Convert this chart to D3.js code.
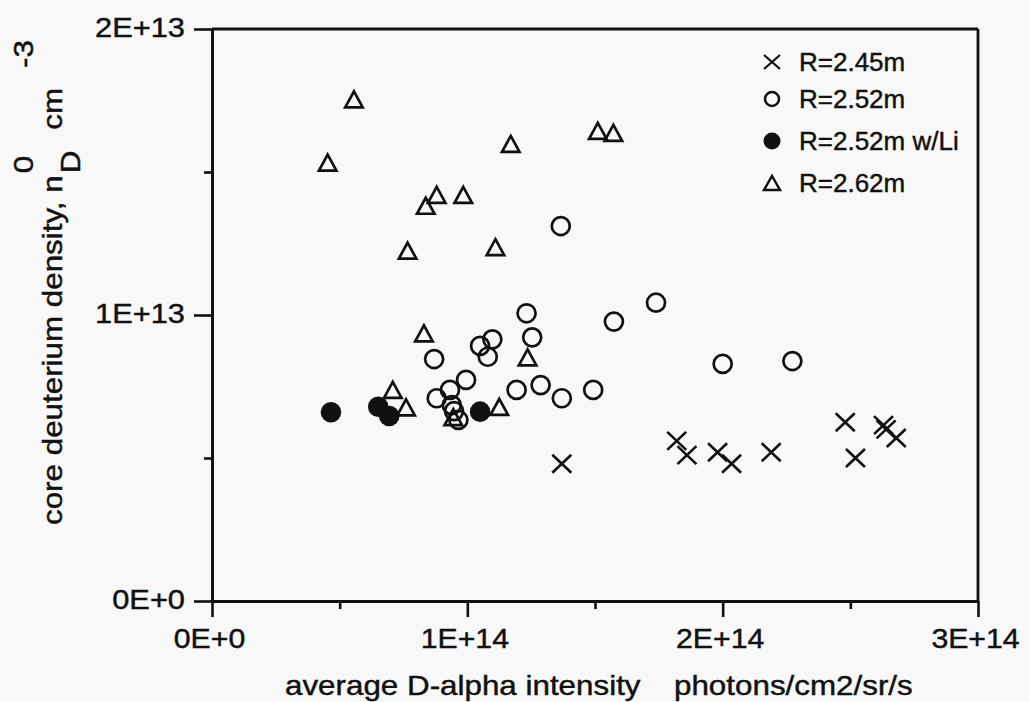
<!DOCTYPE html>
<html>
<head>
    <meta http-equiv="Content-Type" content="text/html;charset=utf8" />
    <title>Core deuterium density vs D-alpha</title>
    <script src="https://d3js.org/d3.v7.min.js"></script>
    <style>
        body { margin: 0; background: #f8f8f8; font-family: "Liberation Sans", Arial, sans-serif; }
        svg text { fill: #111; stroke: #111; stroke-width: 0.45px; }
    </style>
</head>
<body>

<div id="chart"></div>

<script>

    // data: [D-alpha intensity, core density]
    var r245 = [[1.37e14,0.48e13],[1.82e14,0.56e13],[1.86e14,0.51e13],[1.98e14,0.52e13],[2.035e14,0.48e13],
                [2.19e14,0.52e13],[2.48e14,0.625e13],[2.52e14,0.50e13],[2.63e14,0.615e13],[2.64e14,0.60e13],[2.68e14,0.57e13]];

    var r252 = [[0.87e14,0.846e13],[1.232e14,1.006e13],[1.254e14,0.922e13],[1.574e14,0.977e13],[1.739e14,1.043e13],
                [1.05e14,0.892e13],[1.098e14,0.915e13],[1.08e14,0.854e13],[0.995e14,0.773e13],[0.932e14,0.738e13],
                [0.88e14,0.709e13],[0.939e14,0.685e13],[0.948e14,0.664e13],[0.965e14,0.633e13],[1.193e14,0.738e13],
                [1.287e14,0.755e13],[1.37e14,0.709e13],[1.493e14,0.738e13],[2.0e14,0.829e13],[2.273e14,0.839e13],
                [1.366e14,1.311e13]];

    var r252li = [[0.466e14,0.66e13],[0.651e14,0.679e13],[0.694e14,0.647e13],[1.05e14,0.662e13]];

    var r262 = [[0.556e14,1.754e13],[0.453e14,1.533e13],[1.17e14,1.598e13],[1.511e14,1.644e13],[1.572e14,1.637e13],
                [0.88e14,1.42e13],[0.837e14,1.382e13],[0.984e14,1.42e13],[0.766e14,1.225e13],[1.11e14,1.237e13],
                [0.83e14,0.936e13],[0.708e14,0.738e13],[0.76e14,0.677e13],[1.236e14,0.852e13],[1.125e14,0.679e13],
                [0.945e14,0.643e13]];

    var xTicks = [0, 1e14, 2e14, 3e14];
    var xMinor = [0.5e14, 1.5e14, 2.5e14];
    var yTicks = [0, 1e13, 2e13];
    var yMinor = [0.5e13, 1.5e13];

    var legendLabels = ["R=2.45m", "R=2.52m", "R=2.52m w/Li", "R=2.62m"];

    var W = 1029, H = 702;
    var pLeft = 212, pRight = 978, pTop = 29, pBottom = 601;
    var sx = 1.12; // the scanned lettering is wide

    var svg = d3.select("#chart").append("svg").attr("width", W).attr("height", H);

    var x = d3.scaleLinear().domain([0, 3e14]).range([pLeft, pRight]);
    var y = d3.scaleLinear().domain([0, 2e13]).range([pBottom, pTop]);

    var fmt = function(d) { return d3.format(".0e")(d).toUpperCase(); };

    // frame top / right
    svg.append("line").attr("x1", pLeft).attr("x2", pRight).attr("y1", pTop).attr("y2", pTop)
        .attr("stroke", "#111").attr("stroke-width", 2.8);
    svg.append("line").attr("x1", pRight).attr("x2", pRight).attr("y1", pTop).attr("y2", pBottom)
        .attr("stroke", "#111").attr("stroke-width", 2.8);

    // x axis
    var gx = svg.append("g").attr("transform", "translate(0," + pBottom + ")")
        .call(d3.axisBottom(x).tickValues(xTicks).tickSize(16).tickSizeOuter(0).tickFormat(fmt));
    svg.append("g").attr("transform", "translate(0," + pBottom + ")")
        .call(d3.axisBottom(x).tickValues(xMinor).tickSize(8).tickSizeOuter(0).tickFormat(""));

    // y axis
    var gy = svg.append("g").attr("transform", "translate(" + pLeft + ",0)")
        .call(d3.axisLeft(y).tickValues(yTicks).tickSize(18).tickSizeOuter(0).tickFormat(fmt));
    svg.append("g").attr("transform", "translate(" + pLeft + ",0)")
        .call(d3.axisLeft(y).tickValues(yMinor).tickSize(8).tickSizeOuter(0).tickFormat(""));

    svg.selectAll(".domain").attr("stroke", "#111").attr("stroke-width", 2.8);
    svg.selectAll(".tick line").attr("stroke", "#111").attr("stroke-width", 2.6);

    gx.selectAll(".tick text")
        .attr("font-family", "Liberation Sans, Arial, sans-serif").attr("font-size", 28).attr("fill", "#111")
        .attr("x", 0).attr("y", 0).attr("dy", 0)
        .attr("transform", "translate(-3,47) scale(" + 1.08 + ",1)");
    gy.selectAll(".tick text")
        .attr("font-family", "Liberation Sans, Arial, sans-serif").attr("font-size", 28).attr("fill", "#111")
        .attr("x", 0).attr("dy", "0.35em")
        .attr("transform", "translate(-27,-2) scale(" + 1.1 + ",1)");

    // axis titles
    svg.append("text").attr("transform", "translate(285,695) scale(" + sx + ",1)")
        .attr("font-size", 28).text("average D-alpha intensity");
    svg.append("text").attr("transform", "translate(674,695) scale(" + sx + ",1)")
        .attr("font-size", 28).text("photons/cm2/sr/s");

    var yt = svg.append("text").attr("transform", "translate(62,525) rotate(-90) scale(" + sx + ",1)")
        .attr("font-size", 28);
    yt.append("tspan").attr("x", 0).attr("y", 0).text("core deuterium density, n");
    yt.append("tspan").attr("x", 314).attr("y", 18).text("D");
    yt.append("tspan").attr("x", 314).attr("y", -29).text("0");
    yt.append("tspan").attr("x", 353).attr("y", 0).text("cm");
    yt.append("tspan").attr("x", 408).attr("y", -29).text("-3");

    // marker shapes
    function circlePath(r) { return function() { var p = d3.path(); p.arc(0, 0, r, 0, 2 * Math.PI); p.closePath(); return p.toString(); }; }
    function triPath(w, h) { return function() { return "M0," + (-h / 2) + "L" + (w / 2) + "," + (h / 2) + "L" + (-w / 2) + "," + (h / 2) + "Z"; }; }
    function crossPath(a, b) { return function() { return "M" + (-a) + "," + (-b) + "L" + a + "," + b + "M" + (-a) + "," + b + "L" + a + "," + (-b); }; }

    var series = [
        { data: r252li, path: circlePath(10.3), fill: "#111", stroke: "none", sw: 0 },
        { data: r262, path: triPath(17.5, 16), fill: "none", stroke: "#111", sw: 2.7 },
        { data: r252, path: circlePath(9), fill: "none", stroke: "#111", sw: 2.7 },
        { data: r245, path: crossPath(9.5, 9), fill: "none", stroke: "#111", sw: 2.6 }
    ];

    series.forEach(function(s) {
        svg.append("g").selectAll("path").data(s.data).enter().append("path")
            .attr("transform", function(d) { return "translate(" + x(d[0]) + "," + y(d[1]) + ")"; })
            .attr("d", s.path)
            .attr("fill", s.fill).attr("stroke", s.stroke).attr("stroke-width", s.sw);
    });

    // legend
    var legendRows = [62, 99, 141, 183];
    var legendMarks = [
        { path: crossPath(8, 7), fill: "none", stroke: "#111", sw: 2.3 },
        { path: circlePath(7), fill: "none", stroke: "#111", sw: 2.5 },
        { path: circlePath(8.5), fill: "#111", stroke: "none", sw: 0 },
        { path: triPath(16, 14), fill: "none", stroke: "#111", sw: 2.5 }
    ];
    var lg = svg.append("g").selectAll("g").data(legendLabels).enter().append("g")
        .attr("transform", function(d, i) { return "translate(772," + legendRows[i] + ")"; });
    lg.append("path")
        .attr("d", function(d, i) { return legendMarks[i].path(); })
        .attr("fill", function(d, i) { return legendMarks[i].fill; })
        .attr("stroke", function(d, i) { return legendMarks[i].stroke; })
        .attr("stroke-width", function(d, i) { return legendMarks[i].sw; });
    lg.append("text").attr("x", 27).attr("y", 9).attr("font-size", 26).text(function(d) { return d; });

</script>

</body>
</html>
